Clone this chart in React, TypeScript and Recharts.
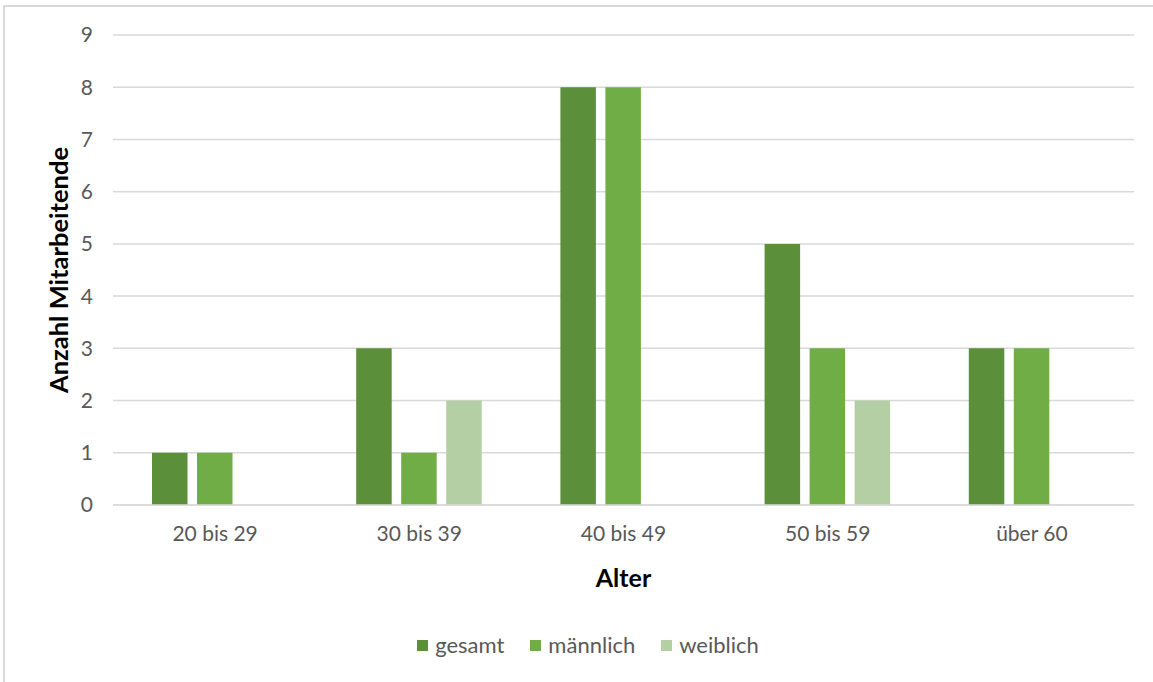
import React from "react";
import { BarChart, Bar, CartesianGrid, XAxis, YAxis, Legend } from "recharts";

const categories = ["20 bis 29", "30 bis 39", "40 bis 49", "50 bis 59", "über 60"];
const gesamt = [1, 3, 8, 5, 3];
const maennlich = [1, 1, 8, 3, 3];
const weiblich = [null, 2, null, 2, null];
const yTicks = [0, 1, 2, 3, 4, 5, 6, 7, 8, 9];

const data = categories.map((c, i) => ({
  name: c,
  gesamt: gesamt[i],
  männlich: maennlich[i],
  weiblich: weiblich[i],
}));

const FONT = "Lato, 'Open Sans', sans-serif";
const GRID = "#d9d9d9";
const TEXT = "#595959";

function LegendContent({ payload }: any) {
  return (
    <div style={{ display: "flex", justifyContent: "center", paddingLeft: 42, fontFamily: FONT, fontSize: 22, color: TEXT, lineHeight: "26px" }}>
      {(payload || []).map((p: any) => (
        <div key={p.value} style={{ display: "flex", alignItems: "center", margin: "0 13px" }}>
          <span style={{ width: 11, height: 11, background: p.color, display: "inline-block", marginRight: 7 }} />
          <span>{p.value}</span>
        </div>
      ))}
    </div>
  );
}

export default function App() {
  return (
    <div style={{ position: "absolute", left: 0, top: 0, width: 1153, height: 682, overflow: "hidden", background: "#fff" }}>
      <div style={{ position: "absolute", left: 3, top: 5, width: 1170, height: 700, border: `2px solid ${GRID}` }} />
      <div style={{ position: "absolute", left: 0, top: 0 }}>
        <BarChart
          width={1153}
          height={682}
          data={data}
          margin={{ top: 35, right: 19, bottom: 24, left: 0 }}
          barSize={35.5}
          barGap={9.5}
        >
          <CartesianGrid horizontal vertical={false} stroke={GRID} strokeWidth={1.5} />
          <XAxis
            dataKey="name"
            height={127}
            tickLine={false}
            axisLine={{ stroke: GRID, strokeWidth: 1.5 }}
            tickMargin={15}
            tick={{ fill: TEXT, fontSize: 21, fontFamily: FONT }}
            label={{ value: "Alter", position: "insideBottom", offset: 45, fill: "#000", fontSize: 25, fontWeight: 700, fontFamily: FONT }}
          />
          <YAxis
            width={113}
            domain={[0, 9]}
            ticks={yTicks}
            tickLine={false}
            axisLine={false}
            tickMargin={14}
            tick={{ fill: TEXT, fontSize: 21, fontFamily: FONT }}
            label={{ value: "Anzahl Mitarbeitende", angle: -90, position: "center", dx: 2, fill: "#000", fontSize: 25.5, fontWeight: 700, fontFamily: FONT }}
          />
          <Legend verticalAlign="bottom" content={<LegendContent />} />
          <Bar dataKey="gesamt" fill="#5b8f3a" isAnimationActive={false} />
          <Bar dataKey="männlich" fill="#70ad47" isAnimationActive={false} />
          <Bar dataKey="weiblich" fill="#b5cfa5" isAnimationActive={false} />
        </BarChart>
      </div>
    </div>
  );
}
